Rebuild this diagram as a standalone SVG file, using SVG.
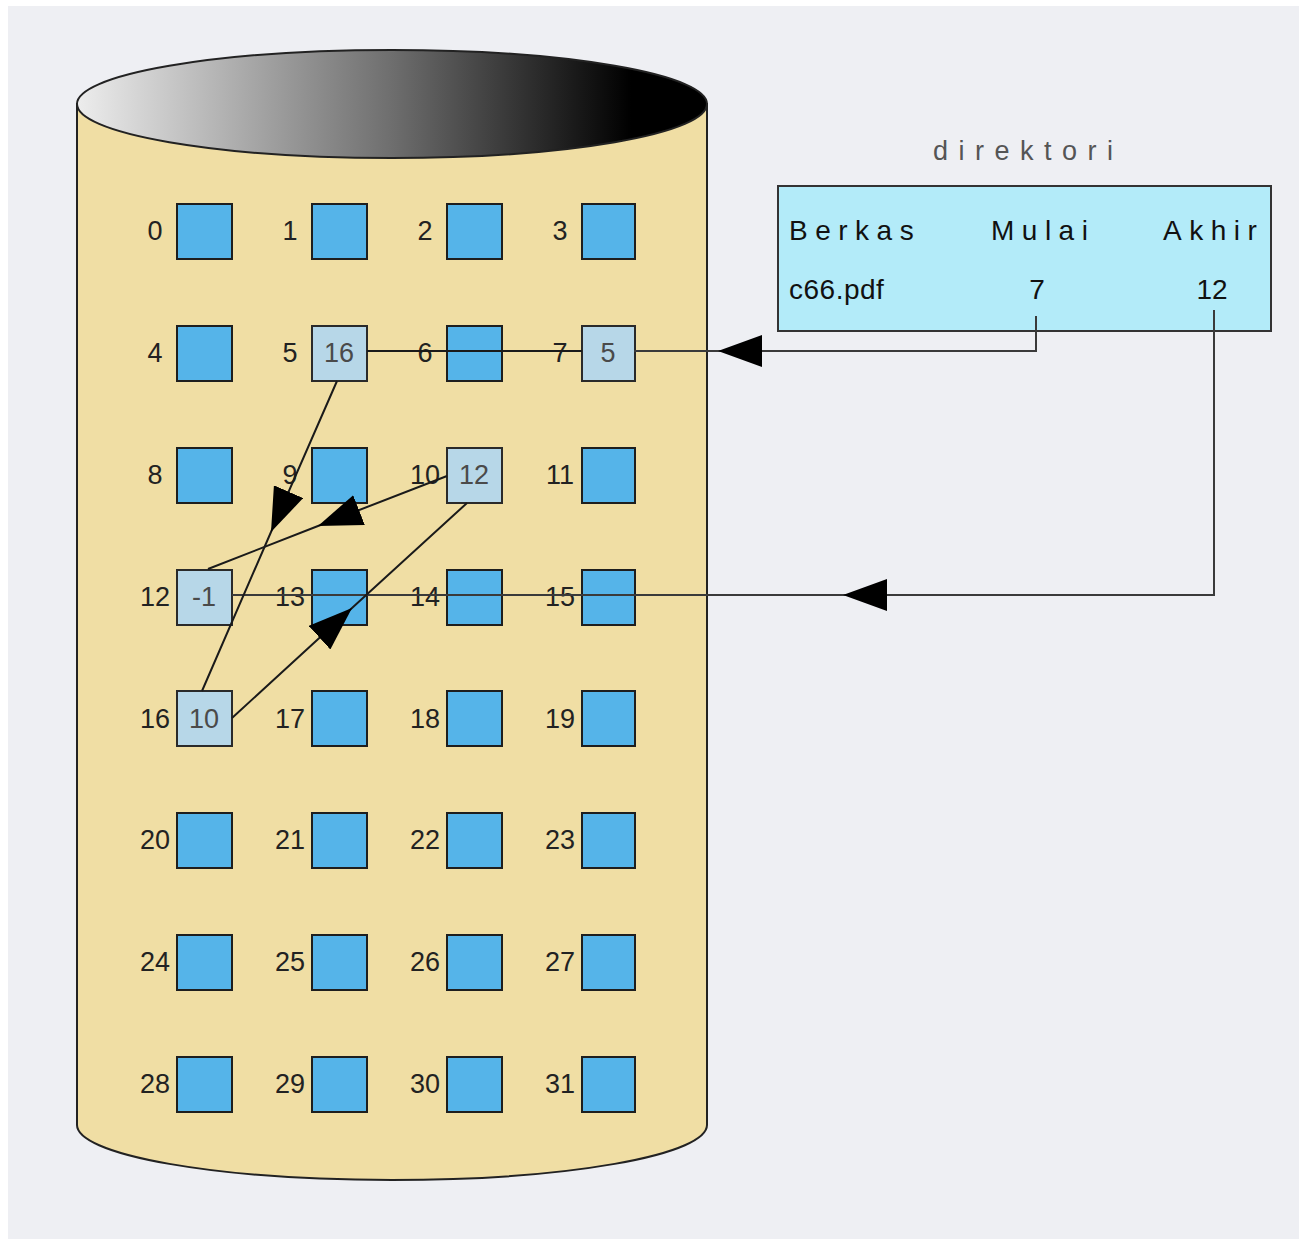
<svg xmlns="http://www.w3.org/2000/svg" width="1303" height="1239" viewBox="0 0 1303 1239">
  <style>
    .blk { fill: #55b4e9; stroke: #1e1e1e; stroke-width: 2; }
    .used { fill: #b7d7e8; stroke: #2a2a2a; stroke-width: 2; }
    .num { font-family: "Liberation Sans", Arial, sans-serif; font-size: 27px; fill: #222; text-anchor: middle; }
    .val { font-family: "Liberation Sans", Arial, sans-serif; font-size: 27px; fill: #4a4a4a; text-anchor: middle; }
    .hdr { font-family: "Liberation Sans", Arial, sans-serif; font-size: 28px; fill: #111; letter-spacing: 7.5px; }
    .cell { font-family: "Liberation Sans", Arial, sans-serif; font-size: 28px; fill: #111; }
    .link { fill: none; stroke: #1a1a1a; stroke-width: 2; }
    .ptr { fill: none; stroke: #3a3a3a; stroke-width: 2; }
  </style>
  <defs>
    <linearGradient id="topShade" x1="0" y1="0" x2="1" y2="0">
      <stop offset="0" stop-color="#ededed"/>
      <stop offset="0.5" stop-color="#6e6e6e"/>
      <stop offset="0.88" stop-color="#000"/>
      <stop offset="1" stop-color="#000"/>
    </linearGradient>
    <marker id="head" viewBox="0 0 44 32" refX="44" refY="16" markerWidth="44" markerHeight="32" markerUnits="userSpaceOnUse" orient="auto">
      <path d="M0,0 L44,16 L0,32 Z" fill="#000"/>
    </marker>
  </defs>

  <!-- page -->
  <rect x="0" y="0" width="1303" height="1239" fill="#fff"/>
  <rect x="8" y="6" width="1291" height="1233" fill="#eeeff3"/>

  <!-- disk cylinder -->
  <g id="disk">
    <path d="M77,104 L77,1125 A315,55 0 0 0 707,1125 L707,104 Z" fill="#f0dea4" stroke="#222" stroke-width="2"/>
    <ellipse cx="392" cy="104" rx="315" ry="54" fill="url(#topShade)" stroke="#222" stroke-width="2"/>
  </g>

  <!-- disk blocks -->
  <g id="blocks">
    <g id="b0"><text class="num" x="155" y="240">0</text><rect class="blk" x="177" y="204" width="55" height="55"/></g>
    <g id="b1"><text class="num" x="290" y="240">1</text><rect class="blk" x="312" y="204" width="55" height="55"/></g>
    <g id="b2"><text class="num" x="425" y="240">2</text><rect class="blk" x="447" y="204" width="55" height="55"/></g>
    <g id="b3"><text class="num" x="560" y="240">3</text><rect class="blk" x="582" y="204" width="53" height="55"/></g>

    <g id="b4"><text class="num" x="155" y="362">4</text><rect class="blk" x="177" y="326" width="55" height="55"/></g>
    <g id="b5"><text class="num" x="290" y="362">5</text><rect class="used" x="312" y="326" width="55" height="55"/><text class="val" x="339" y="362">16</text></g>
    <g id="b6"><text class="num" x="425" y="362">6</text><rect class="blk" x="447" y="326" width="55" height="55"/></g>
    <g id="b7"><text class="num" x="560" y="362">7</text><rect class="used" x="582" y="326" width="53" height="55"/><text class="val" x="608" y="362">5</text></g>

    <g id="b8"><text class="num" x="155" y="484">8</text><rect class="blk" x="177" y="448" width="55" height="55"/></g>
    <g id="b9"><text class="num" x="290" y="484">9</text><rect class="blk" x="312" y="448" width="55" height="55"/></g>
    <g id="b10"><text class="num" x="425" y="484">10</text><rect class="used" x="447" y="448" width="55" height="55"/><text class="val" x="474" y="484">12</text></g>
    <g id="b11"><text class="num" x="560" y="484">11</text><rect class="blk" x="582" y="448" width="53" height="55"/></g>

    <g id="b12"><text class="num" x="155" y="606">12</text><rect class="used" x="177" y="570" width="55" height="55"/><text class="val" x="204" y="606">-1</text></g>
    <g id="b13"><text class="num" x="290" y="606">13</text><rect class="blk" x="312" y="570" width="55" height="55"/></g>
    <g id="b14"><text class="num" x="425" y="606">14</text><rect class="blk" x="447" y="570" width="55" height="55"/></g>
    <g id="b15"><text class="num" x="560" y="606">15</text><rect class="blk" x="582" y="570" width="53" height="55"/></g>

    <g id="b16"><text class="num" x="155" y="728">16</text><rect class="used" x="177" y="691" width="55" height="55"/><text class="val" x="204" y="728">10</text></g>
    <g id="b17"><text class="num" x="290" y="728">17</text><rect class="blk" x="312" y="691" width="55" height="55"/></g>
    <g id="b18"><text class="num" x="425" y="728">18</text><rect class="blk" x="447" y="691" width="55" height="55"/></g>
    <g id="b19"><text class="num" x="560" y="728">19</text><rect class="blk" x="582" y="691" width="53" height="55"/></g>

    <g id="b20"><text class="num" x="155" y="849">20</text><rect class="blk" x="177" y="813" width="55" height="55"/></g>
    <g id="b21"><text class="num" x="290" y="849">21</text><rect class="blk" x="312" y="813" width="55" height="55"/></g>
    <g id="b22"><text class="num" x="425" y="849">22</text><rect class="blk" x="447" y="813" width="55" height="55"/></g>
    <g id="b23"><text class="num" x="560" y="849">23</text><rect class="blk" x="582" y="813" width="53" height="55"/></g>

    <g id="b24"><text class="num" x="155" y="971">24</text><rect class="blk" x="177" y="935" width="55" height="55"/></g>
    <g id="b25"><text class="num" x="290" y="971">25</text><rect class="blk" x="312" y="935" width="55" height="55"/></g>
    <g id="b26"><text class="num" x="425" y="971">26</text><rect class="blk" x="447" y="935" width="55" height="55"/></g>
    <g id="b27"><text class="num" x="560" y="971">27</text><rect class="blk" x="582" y="935" width="53" height="55"/></g>

    <g id="b28"><text class="num" x="155" y="1093">28</text><rect class="blk" x="177" y="1057" width="55" height="55"/></g>
    <g id="b29"><text class="num" x="290" y="1093">29</text><rect class="blk" x="312" y="1057" width="55" height="55"/></g>
    <g id="b30"><text class="num" x="425" y="1093">30</text><rect class="blk" x="447" y="1057" width="55" height="55"/></g>
    <g id="b31"><text class="num" x="560" y="1093">31</text><rect class="blk" x="582" y="1057" width="53" height="55"/></g>
  </g>

  <!-- directory table -->
  <g id="direktori">
    <text x="933" y="160" font-family="Liberation Sans, Arial, sans-serif" font-size="27" fill="#555" letter-spacing="10.5">direktori</text>
    <rect x="778" y="186" width="493" height="145" fill="#b3ebf9" stroke="#333" stroke-width="2"/>
    <text class="hdr" x="789" y="240">Berkas</text>
    <text class="hdr" x="991" y="240">Mulai</text>
    <text class="hdr" x="1163" y="240">Akhir</text>
    <text class="cell" x="789" y="299" letter-spacing="0.5">c66.pdf</text>
    <text class="cell" x="1037" y="299" text-anchor="middle">7</text>
    <text class="cell" x="1212" y="299" text-anchor="middle">12</text>
  </g>

  <!-- connectors -->
  <g id="connectors">
    <!-- start pointer: Mulai -> block 7 -->
    <path class="ptr" d="M1036,316 V351 H634"/>
    <path class="ptr" d="M763,351 L718,351" marker-end="url(#head)"/>
    <!-- end pointer: Akhir -> block 12 -->
    <path class="ptr" d="M1214,310 V595 H232"/>
    <path class="ptr" d="M888,595 L843,595" marker-end="url(#head)"/>
    <!-- chain 7 -> 5 -> 16 -> 10 -> 12 -->
    <path class="link" d="M582,351 H367"/>
    <path class="link" d="M337,381 L271,532 L202,691" marker-mid="url(#head)"/>
    <path class="link" d="M232,718 L352,608 L467,503" marker-mid="url(#head)"/>
    <path class="link" d="M447,476 L318,526 L208,569" marker-mid="url(#head)"/>
  </g>
</svg>
